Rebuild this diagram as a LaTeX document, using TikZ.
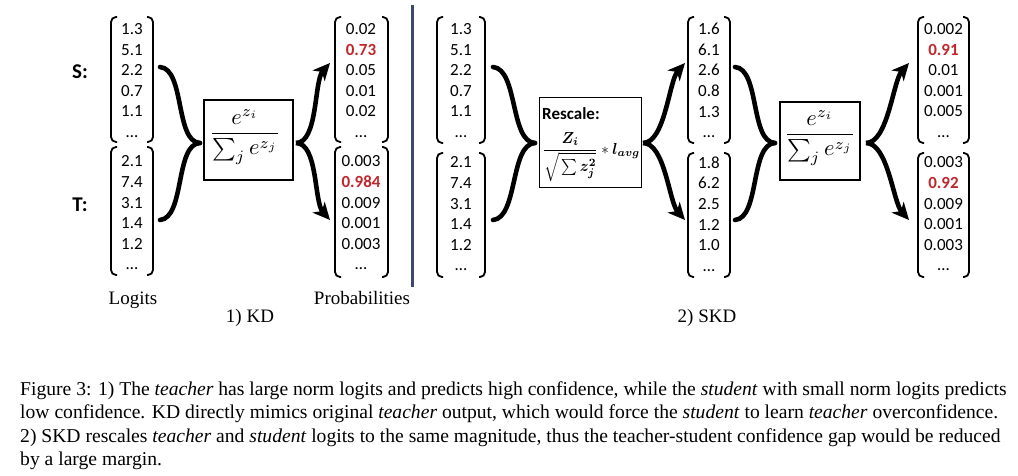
\documentclass[tikz,border=0pt]{standalone}
\usepackage{amsmath,bm}
\usepackage{graphicx}
\usepackage{fontspec}
\setmainfont{Liberation Serif}
\newfontfamily\numfont{Carlito}
\usetikzlibrary{arrows.meta}
\definecolor{sepcol}{HTML}{3B4A6B}
\definecolor{hicol}{HTML}{C0272D}
\newcommand\vbrk[4]{%
  \draw[brk] (#1+6,#3) -- (#1,#3) -- (#1,#4) -- (#1+6,#4);
  \draw[brk] (#2-6,#3) -- (#2,#3) -- (#2,#4) -- (#2-6,#4);}
\newcommand\hi[1]{{\bfseries\color{hicol}#1}}
\newcommand\softmaxf{\scalebox{2.25}{$\displaystyle\frac{e^{z_i}}{\sum_j e^{z_j}}$}}
\begin{document}
\begin{tikzpicture}[x=1pt,y=-1pt,
  brk/.style={line width=1.8pt, rounded corners=5pt},
  num/.style={font=\numfont\fontsize{17}{20.6}\selectfont, align=center, inner sep=0pt},
  bracestyle/.style={line width=4.6pt, line cap=round},
  arr/.style={line width=4.6pt, -{Stealth[length=17pt,width=16pt,inset=5pt]}},
  fbox/.style={draw, line width=1.8pt, inner sep=0pt},
  lab/.style={font=\fontsize{19}{22}\selectfont, inner sep=0pt, anchor=base},
  capline/.style={font=\fontsize{19.6}{23}\selectfont, inner sep=0pt, anchor=base west},
  sidelab/.style={font=\numfont\bfseries\fontsize{21}{24}\selectfont, inner sep=0pt},
]
\useasboundingbox (0,0) rectangle (1018,476);

% ---------- 1) KD ----------
\node[sidelab] (S) at (80,72) {S:};
\node[sidelab] (T) at (80,205) {T:};

\node[num] (kds) at (132,80.5) {1.3\\5.1\\2.2\\0.7\\1.1\\…};
\node[num] (kdt) at (132,213) {2.1\\7.4\\3.1\\1.4\\1.2\\…};
\vbrk{111}{153}{17}{142}
\vbrk{111}{153}{147}{275}

\node[fbox, minimum width=89pt, minimum height=80pt] (kdbox) at (248.5,140) {};
\node[inner sep=0pt] (kdform) at (245,137) {\softmaxf};

\node[num] (kdps) at (361,80.5) {0.02\\\hi{0.73}\\0.05\\0.01\\0.02\\…};
\node[num] (kdpt) at (361,213) {0.003\\\hi{0.984}\\0.009\\0.001\\0.003\\…};
\vbrk{335}{388}{17}{142}
\vbrk{335}{388}{147}{277}

\coordinate (kdA) at (160,67);
\coordinate (kdB) at (160,220);
\coordinate (kdTip) at (200,143);
\coordinate (kdTip2) at (296,143);
\coordinate (kdE1) at (330,63);
\coordinate (kdE2) at (330,220);
\draw[bracestyle] (kdA) .. controls +(25,2) and +(-25,-1) .. (kdTip);
\draw[bracestyle] (kdB) .. controls +(25,-2) and +(-25,1) .. (kdTip);
\draw[arr] (kdTip2) .. controls +(22,0) and +(-16,18) .. (kdE1);
\draw[arr] (kdTip2) .. controls +(22,0) and +(-16,-18) .. (kdE2);

\node[lab] (logits) at (133,304) {Logits};
\node[lab] (probs) at (362,304) {Probabilities};
\node[lab] (kdlab) at (250,322) {1) KD};

% separator
\coordinate (sepT) at (412,5);
\coordinate (sepB) at (412,287);
\draw[line width=3pt, sepcol] (sepT) -- (sepB);

% ---------- 2) SKD ----------
\node[num] (sks) at (461,80.5) {1.3\\5.1\\2.2\\0.7\\1.1\\…};
\node[num] (skt) at (461,214) {2.1\\7.4\\3.1\\1.4\\1.2\\…};
\vbrk{437}{485}{17}{143}
\vbrk{437}{485}{153}{277}

\node[fbox, minimum width=102pt, minimum height=90pt] (rsbox) at (590.5,142.5) {};
\node[font=\numfont\bfseries\fontsize{17}{20}\selectfont, anchor=base west, inner sep=0pt] (rstitle) at (542,120) {Rescale:};
\node[inner sep=0pt, anchor=west] (rsform) at (542,157)
  {\scalebox{1.5}[1.6]{$\displaystyle\frac{\bm{Z_i}}{\sqrt{\rule[-3pt]{0pt}{12pt}\sum \bm{z_j^2}}}\ast\bm{l_{avg}}$}};

\node[num] (srs) at (709,80.5) {1.6\\6.1\\2.6\\0.8\\1.3\\…};
\node[num] (srt) at (709,214) {1.8\\6.2\\2.5\\1.2\\1.0\\…};
\vbrk{688}{730}{17}{143}
\vbrk{688}{730}{153}{277}

\node[fbox, minimum width=80pt, minimum height=78pt] (skbox) at (820,141) {};
\node[inner sep=0pt] (skform) at (820,138) {\softmaxf};

\node[num] (skps) at (943.5,80.5) {0.002\\\hi{0.91}\\0.01\\0.001\\0.005\\…};
\node[num] (skpt) at (943.5,214) {0.003\\\hi{0.92}\\0.009\\0.001\\0.003\\…};
\vbrk{918}{969}{17}{143}
\vbrk{918}{969}{153}{277}

\coordinate (skA) at (493,67);
\coordinate (skB) at (493,220);
\coordinate (skTip) at (535,143);
\coordinate (skTip2) at (643,143);
\coordinate (skE1) at (685,63);
\coordinate (skE2) at (685,220);
\draw[bracestyle] (skA) .. controls +(25,2) and +(-25,-1) .. (skTip);
\draw[bracestyle] (skB) .. controls +(25,-2) and +(-25,1) .. (skTip);
\draw[arr] (skTip2) .. controls +(22,0) and +(-16,18) .. (skE1);
\draw[arr] (skTip2) .. controls +(22,0) and +(-16,-18) .. (skE2);

\coordinate (smA) at (735,67);
\coordinate (smB) at (735,220);
\coordinate (smTip) at (775,143);
\coordinate (smTip2) at (866,143);
\coordinate (smE1) at (909,63);
\coordinate (smE2) at (909,220);
\draw[bracestyle] (smA) .. controls +(25,2) and +(-25,-1) .. (smTip);
\draw[bracestyle] (smB) .. controls +(25,-2) and +(-25,1) .. (smTip);
\draw[arr] (smTip2) .. controls +(22,0) and +(-16,18) .. (smE1);
\draw[arr] (smTip2) .. controls +(22,0) and +(-16,-18) .. (smE2);

\node[lab] (skdlab) at (707,322) {2) SKD};

% ---------- caption ----------
\node[capline] (c1) at (20,395) {Figure 3: 1) The \textit{teacher} has large norm logits and predicts high confidence, while the \textit{student} with small norm logits predicts};
\node[capline] (c2) at (20,418) {low confidence. KD directly mimics original \textit{teacher} output, which would force the \textit{student} to learn \textit{teacher} overconfidence.};
\node[capline] (c3) at (20,442) {2) SKD rescales \textit{teacher} and \textit{student} logits to the same magnitude, thus the teacher-student confidence gap would be reduced};
\node[capline] (c4) at (20,465) {by a large margin.};
\end{tikzpicture}
\end{document}
